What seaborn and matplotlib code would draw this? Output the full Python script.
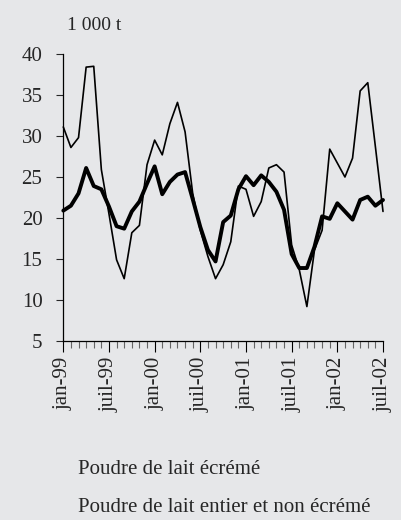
import matplotlib
matplotlib.use("Agg")
import matplotlib.pyplot as plt
import seaborn as sns
import pandas as pd
from matplotlib.ticker import MultipleLocator

# mois de janvier 1999 à juillet 2002
mois = pd.date_range("1999-01-01", "2002-07-01", freq="MS")
tick_labels = ["jan-99", "juil-99", "jan-00", "juil-00",
               "jan-01", "juil-01", "jan-02", "juil-02"]
series_names = ["Poudre de lait écrémé", "Poudre de lait entier et non écrémé"]

# 1 000 t
ecreme = [31.1, 28.6, 29.8, 38.4, 38.5, 25.9, 20.5, 14.9, 12.6, 18.2, 19.1,
          26.5, 29.5, 27.7, 31.5, 34.1, 30.5, 23.0, 18.5, 15.3, 12.6, 14.3,
          17.1, 23.9, 23.5, 20.2, 22.0, 26.1, 26.5, 25.6, 16.7, 13.7, 9.2,
          16.1, 18.5, 28.4, 26.7, 25.0, 27.3, 35.5, 36.5, 28.7, 20.8]
entier = [20.9, 21.5, 23.0, 26.1, 23.9, 23.5, 21.4, 19.0, 18.7, 20.8, 22.0,
          24.2, 26.3, 22.9, 24.4, 25.3, 25.6, 22.3, 18.9, 16.1, 14.7, 19.5,
          20.3, 23.5, 25.1, 24.0, 25.2, 24.4, 23.2, 21.0, 15.6, 13.9, 13.9,
          16.5, 20.2, 19.9, 21.8, 20.8, 19.8, 22.2, 22.6, 21.5, 22.2]

bg = "#e6e7e9"

sns.set_theme(style="ticks")
plt.rcParams['font.family'] = ['Liberation Serif', 'DejaVu Serif']

df = pd.DataFrame({"i": range(len(mois)), "ecreme": ecreme, "entier": entier})

fig = plt.figure(figsize=(4.02, 5.2), dpi=100, facecolor=bg)
ax = fig.add_axes([63.3 / 402, 1 - 341 / 520, (383 - 63.3) / 402, (341 - 54) / 520])
ax.set_facecolor(bg)

sns.lineplot(data=df, x="i", y="ecreme", color="black", linewidth=1.2, ax=ax, clip_on=False)
sns.lineplot(data=df, x="i", y="entier", color="black", linewidth=2.8, ax=ax, clip_on=False)

ax.set_xlim(0, len(mois) - 1)
ax.set_ylim(5, 40)
ax.set_xticks(range(0, len(mois), 6))
ax.set_xticklabels(tick_labels, rotation=90)
ax.xaxis.set_minor_locator(MultipleLocator(1))
ax.set_yticks(range(5, 41, 5))
ax.set_xlabel("")
ax.set_ylabel("")
ax.tick_params(axis="x", which="major", length=8, width=0.8, color="black",
               labelsize=15, pad=3)
ax.tick_params(axis="x", which="minor", length=5, width=0.8, color="#666666")
ax.tick_params(axis="y", length=5, width=0.8, labelsize=15, pad=10)
for s in ["top", "right"]:
    ax.spines[s].set_visible(False)
for s in ["left", "bottom"]:
    ax.spines[s].set_linewidth(0.9)
    ax.spines[s].set_color("black")

fig.text(67 / 402, 1 - 25 / 520, "1 000 t", fontsize=14, va="center")
fig.text(78 / 402, 1 - 469 / 520, series_names[0], fontsize=15, va="center")
fig.text(78 / 402, 1 - 508 / 520, series_names[1], fontsize=15, va="center")

fig.savefig("out.png", dpi=100, facecolor=bg)
